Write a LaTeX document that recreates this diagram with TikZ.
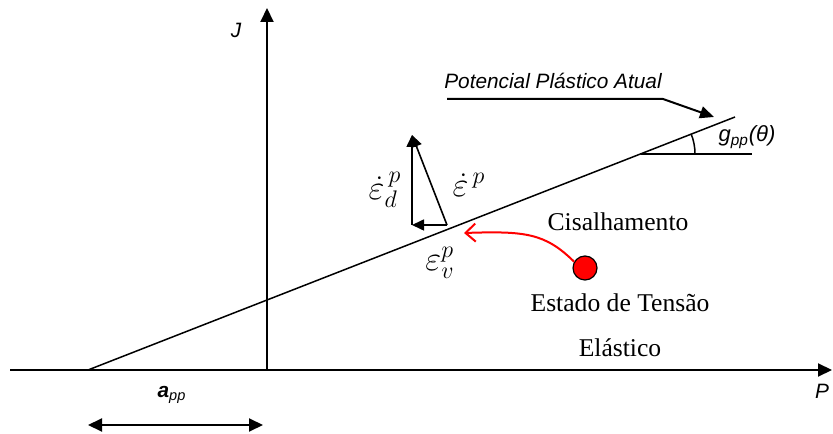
\documentclass[tikz,border=0pt]{standalone}
\usepackage{fontspec}
\setmainfont{Liberation Serif}
\newfontfamily\arialfont{Liberation Sans}
\usetikzlibrary{arrows.meta}

\newcommand{\epsdot}{\dot{\varepsilon}}

\begin{document}
\begin{tikzpicture}[x=0.5pt, y=0.5pt, line width=0.6pt,
  sanslabel/.style={font=\arialfont\itshape\fontsize{10.4}{12}\selectfont, inner sep=1pt},
  seriflabel/.style={font=\fontsize{12.8}{15}\selectfont, inner sep=1pt},
  mathlabel/.style={font=\fontsize{16.5}{19}\selectfont, inner sep=1pt},
  vec/.style={-{Triangle[length=6pt, width=5.5pt]}, line width=0.8pt}]
  \useasboundingbox (0,0) rectangle (833,433);
  % axes
  \coordinate (xs) at (10,63);
  \coordinate (xe) at (832,63);
  \coordinate (O) at (267,63);
  \coordinate (ye) at (267,425);
  \draw[-{Triangle[length=7pt, width=6.5pt]}, line width=1pt] (xs) -- (xe);
  \draw[-{Triangle[length=7pt, width=6.5pt]}, line width=1pt] (O) -- (ye);
  \node[sanslabel] (lP) at (822,42) {P};
  \node[sanslabel] (lJ) at (236,403) {J};
  % potencial plastico
  \coordinate (g0) at (88,63);
  \coordinate (g1) at (735,316);
  \draw[line width=0.75pt] (g0) -- (g1);
  \coordinate (h0) at (641,279);
  \coordinate (h1) at (752,279);
  \draw[line width=0.75pt] (h0) -- (h1);
  \draw[line width=0.75pt] (695,279) arc[start angle=0, end angle=21.4, radius=54];
  \node[sanslabel, font=\arialfont\itshape\fontsize{11}{13}\selectfont] (lg) at (747,296) {g\textsubscript{pp}(θ)};
  \node[sanslabel] (lpot) at (553,352) {Potencial Plástico Atual};
  \coordinate (p0) at (447,334);
  \coordinate (p1) at (663,334);
  \coordinate (p2) at (714,316);
  \draw[-{Triangle[length=7pt, width=6pt]}, line width=1pt] (p0) -- (p1) -- (p2);
  % incremento de deformacao plastica
  \coordinate (tA) at (412,208);
  \coordinate (tB) at (447,208);
  \coordinate (tC) at (412,298);
  \draw[vec] (tA) -- (tC);
  \draw[vec] (tB) -- (tC);
  \draw[vec] (tB) -- (tA);
  \node[mathlabel] (ld) at (385,243) {$\epsdot^{\,p}_{d}$};
  \node[mathlabel] (le) at (469,248) {$\epsdot^{\,p}$};
  \node[mathlabel] (lv) at (440,170) {$\varepsilon^{p}_{v}$};
  % estado de tensao
  \node[circle, draw=black, fill=red, line width=0.6pt, minimum size=12pt, inner sep=0pt] (st) at (585,165) {};
  \coordinate (rt) at (464,200);
  \draw[red, line width=1pt, -{Straight Barb[length=5pt, width=9pt]}] (st.150) .. controls (545,200) and (525,202) .. (rt);
  \node[seriflabel] (lcis) at (618,211) {Cisalhamento};
  \node[seriflabel] (lest) at (620,130) {Estado de Tensão};
  \node[seriflabel] (lela) at (620,85) {Elástico};
  % a_pp
  \coordinate (a0) at (88,8);
  \coordinate (a1) at (263,8);
  \draw[{Triangle[length=7pt, width=6.5pt]}-{Triangle[length=7pt, width=6.5pt]}, line width=1pt] (a0) -- (a1);
  \node[sanslabel, font=\arialfont\itshape\fontsize{10.4}{12}\selectfont] (la) at (172,38) {\textbf{a}\textsubscript{pp}};
\end{tikzpicture}
\end{document}
